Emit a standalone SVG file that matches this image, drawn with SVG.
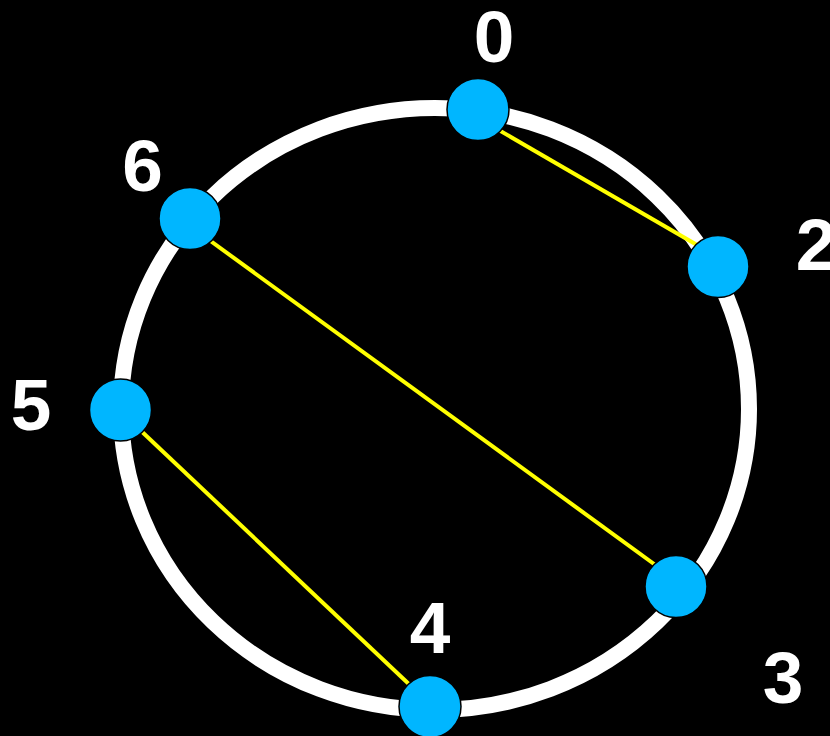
<svg xmlns="http://www.w3.org/2000/svg" width="830" height="736" viewBox="0 0 830 736">
<style>
.ring{fill:none;stroke:#ffffff;stroke-width:16}
.edge{stroke:#ffff00;stroke-width:4;fill:none}
.node{fill:#00b6ff;stroke:#000000;stroke-width:1.5}
.lbl{font-family:"Liberation Sans",Arial,sans-serif;font-weight:bold;font-size:73px;fill:#ffffff;text-anchor:middle}
</style>
<rect x="0" y="0" width="830" height="736" fill="#000000"/>
<ellipse class="ring" cx="435" cy="409" rx="314" ry="301"/>
<g id="connectors">
<line class="edge" x1="478" y1="118" x2="704" y2="249"/>
<line class="edge" x1="190" y1="226" x2="676" y2="580"/>
<line class="edge" x1="120" y1="411" x2="430" y2="704"/>
</g>
<g id="node0"><circle class="node" cx="478" cy="109.5" r="31"/><text class="lbl" x="494" y="62">0</text></g>
<g id="node2"><circle class="node" cx="718" cy="266.5" r="31"/><text class="lbl" x="816" y="270">2</text></g>
<g id="node3"><circle class="node" cx="676" cy="586.5" r="31"/><text class="lbl" x="783" y="703">3</text></g>
<g id="node4"><circle class="node" cx="430" cy="706.5" r="31"/><text class="lbl" x="430" y="653">4</text></g>
<g id="node5"><circle class="node" cx="120.5" cy="410" r="31"/><text class="lbl" x="31" y="430">5</text></g>
<g id="node6"><circle class="node" cx="190" cy="218.5" r="31"/><text class="lbl" x="142.5" y="191">6</text></g>
</svg>
